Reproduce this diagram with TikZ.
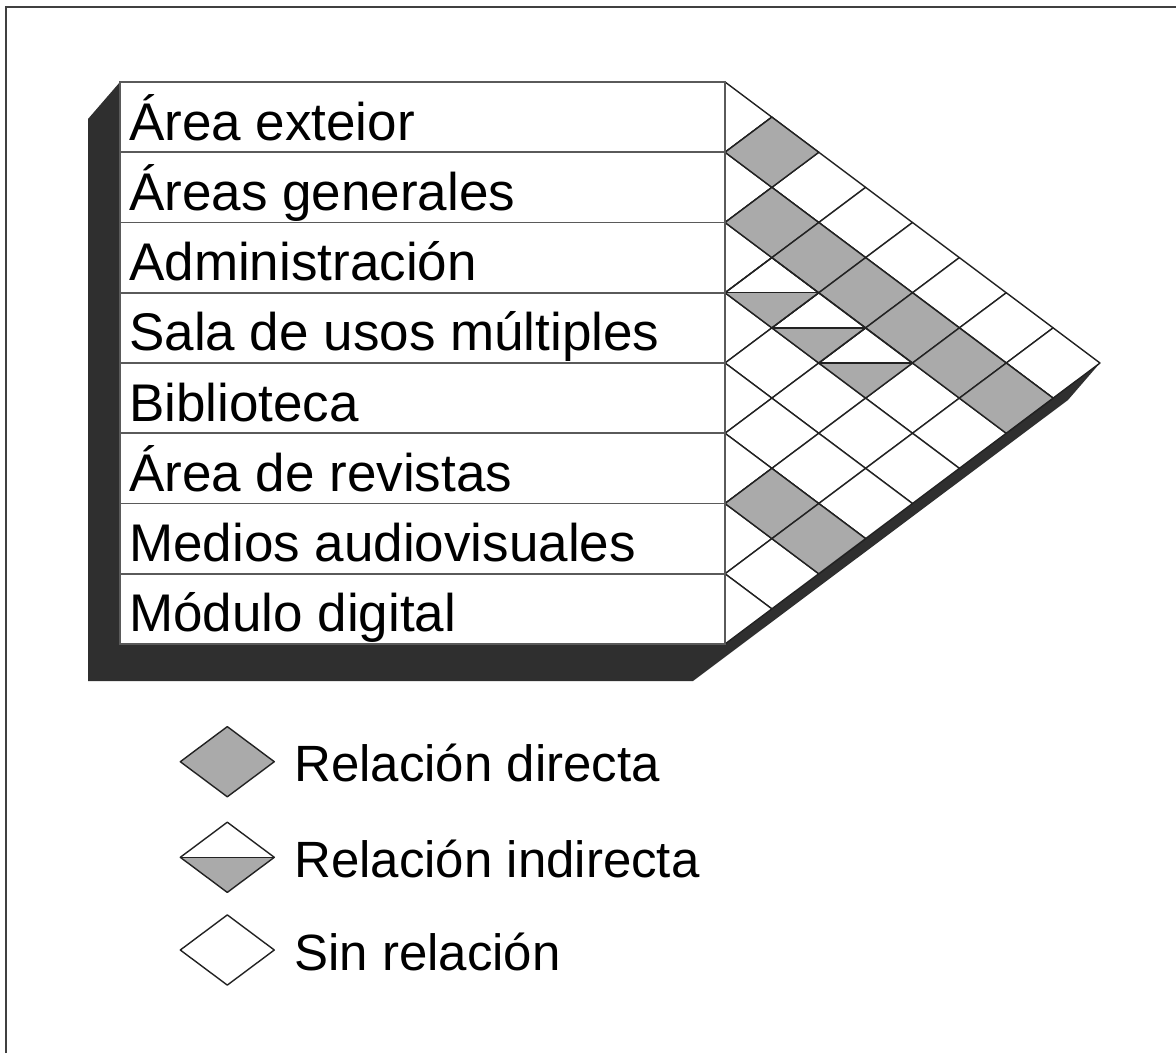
\documentclass[tikz,border=0pt]{standalone}
\usepackage{fontspec}
\setmainfont{Liberation Sans}
\definecolor{cellgray}{HTML}{AAAAAA}
\definecolor{shadowc}{HTML}{2F2F2F}
\definecolor{tableline}{HTML}{5A5A5A}
\definecolor{gridline}{HTML}{222222}
\begin{document}
\begin{tikzpicture}[x=1pt,y=-1pt,
  rowtext/.style={anchor=base west, inner sep=0pt, font=\fontsize{53}{60}\selectfont},
  legtext/.style={anchor=base west, inner sep=0pt, font=\fontsize{51}{60}\selectfont},
  cellline/.style={draw=gridline, line width=1.4pt, line join=round},
  tablebox/.style={draw=tableline, line width=1.6pt},
]
\useasboundingbox (0,0) rectangle (1176,1053);
\fill[white] (0,0) rectangle (1176,1053);
\draw[line width=2pt, draw=black!75] (5.7,1053) -- (5.7,7.3) -- (1176,7.3);

% 3D shadow
\fill[shadowc] (120,82) -- (88,119) -- (88,681) -- (693,681) -- (1068,400) -- (1100,363) -- (725,82) -- cycle;

% matrix cells (white)
\def\hw{46.875}
\def\hh{35.125}
\foreach \i in {1,...,8}{
  \foreach \j in {\i,...,8}{
    \pgfmathsetmacro\cx{725+(\j-\i)*\hw}
    \pgfmathsetmacro\cy{82+\hh*(\i+\j-1)}
    \ifnum\i=\j
      \fill[white] (725,\cy-\hh) -- (\cx+\hw,\cy) -- (725,\cy+\hh) -- cycle;
      \draw[cellline] (725,\cy-\hh) -- (\cx+\hw,\cy) -- (725,\cy+\hh);
    \else
      \filldraw[cellline, fill=white] (\cx-\hw,\cy) -- (\cx,\cy-\hh) -- (\cx+\hw,\cy) -- (\cx,\cy+\hh) -- cycle;
    \fi
  }
}
% direct relations
\foreach \i/\j in {1/2, 2/3, 2/4, 2/5, 2/6, 2/7, 2/8, 6/7, 6/8}{
  \pgfmathsetmacro\cx{725+(\j-\i)*\hw}
  \pgfmathsetmacro\cy{82+\hh*(\i+\j-1)}
  \filldraw[cellline, fill=cellgray] (\cx-\hw,\cy) -- (\cx,\cy-\hh) -- (\cx+\hw,\cy) -- (\cx,\cy+\hh) -- cycle;
}
% indirect relations
\foreach \i/\j in {3/4, 3/5, 3/6}{
  \pgfmathsetmacro\cx{725+(\j-\i)*\hw}
  \pgfmathsetmacro\cy{82+\hh*(\i+\j-1)}
  \fill[cellgray] (\cx-\hw,\cy) -- (\cx+\hw,\cy) -- (\cx,\cy+\hh) -- cycle;
  \draw[cellline] (\cx-\hw,\cy) -- (\cx,\cy-\hh) -- (\cx+\hw,\cy) -- (\cx,\cy+\hh) -- cycle;
  \draw[cellline] (\cx-\hw,\cy) -- (\cx+\hw,\cy);
}

% table
\filldraw[tablebox, fill=white] (120,82) rectangle (725,644);
\foreach \k in {1,...,7}{
  \draw[tablebox] (120,82+70.25*\k) -- (725,82+70.25*\k);
}

% row labels
\node[rowtext] (r1) at (129,140) {Área exteior};
\node[rowtext] (r2) at (129,210.25) {Áreas generales};
\node[rowtext] (r3) at (129,280.5) {Administración};
\node[rowtext] (r4) at (129,350.75) {Sala de usos múltiples};
\node[rowtext] (r5) at (129,421) {Biblioteca};
\node[rowtext] (r6) at (129,491.25) {Área de revistas};
\node[rowtext] (r7) at (129,561.5) {Medios audiovisuales};
\node[rowtext] (r8) at (129,631.75) {Módulo digital};

% legend
\filldraw[cellline, fill=cellgray] (180.3,761.7) -- (227.3,726.6) -- (274.3,761.7) -- (227.3,796.8) -- cycle;
\fill[cellgray] (180.3,857.3) -- (274.3,857.3) -- (227.3,892.4) -- cycle;
\draw[cellline] (180.3,857.3) -- (227.3,822.2) -- (274.3,857.3) -- (227.3,892.4) -- cycle;
\draw[cellline] (180.3,857.3) -- (274.3,857.3);
\filldraw[cellline, fill=white] (180.3,950) -- (227.3,914.9) -- (274.3,950) -- (227.3,985.1) -- cycle;

\node[legtext] (l1) at (294,781.7) {Relación directa};
\node[legtext] (l2) at (294,877.3) {Relación indirecta};
\node[legtext] (l3) at (294,970) {Sin relación};
\end{tikzpicture}
\end{document}
